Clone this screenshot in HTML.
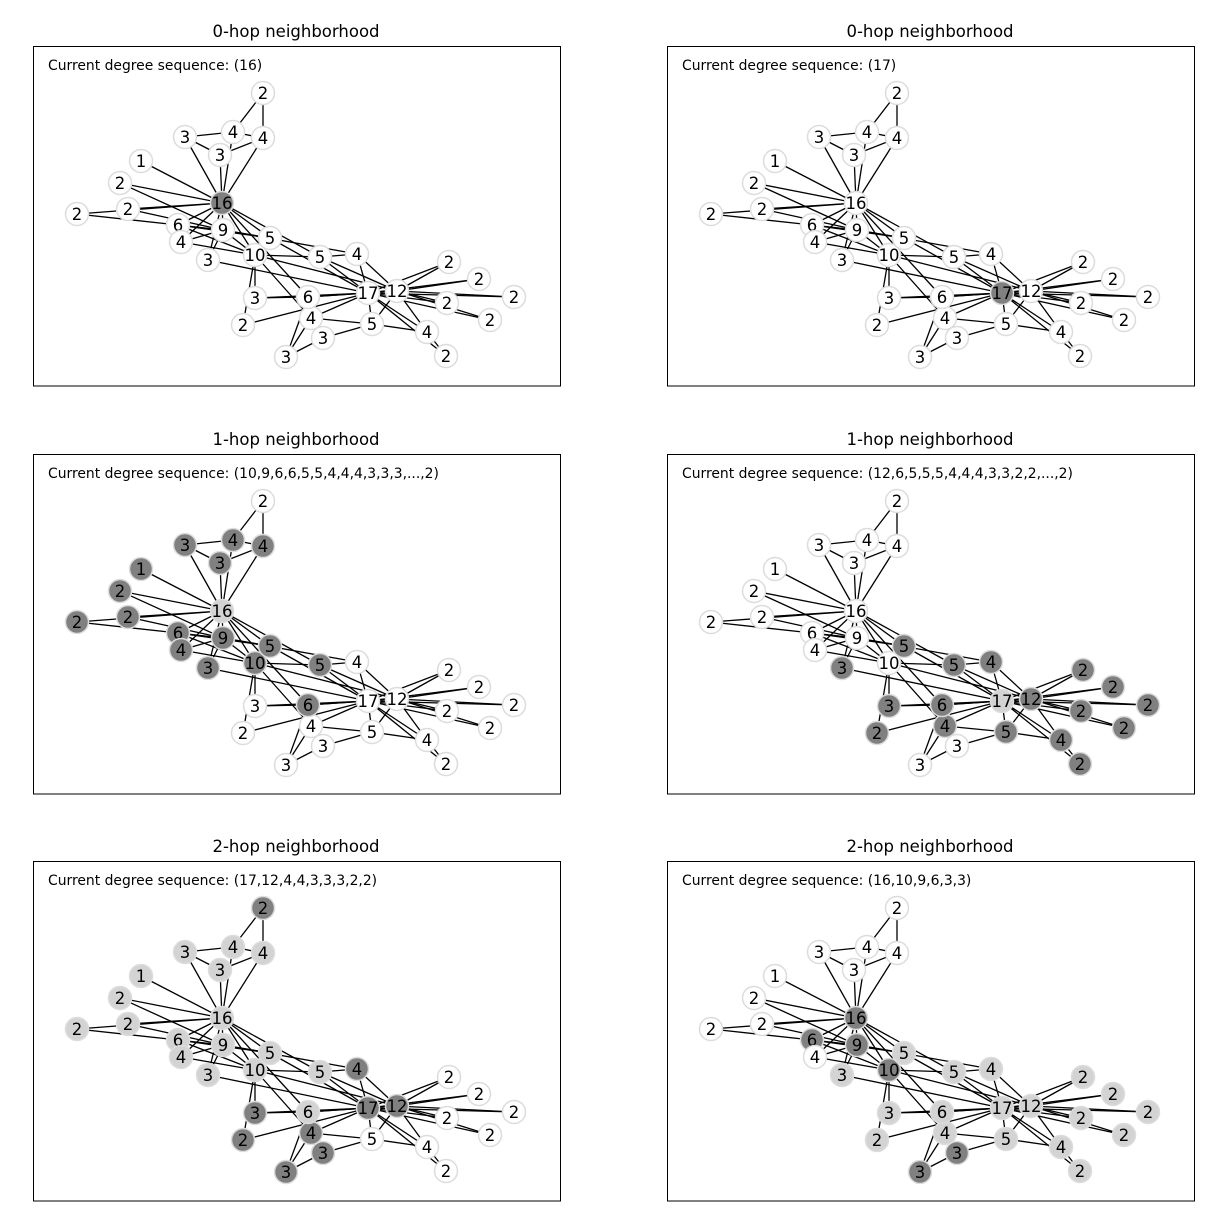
<!DOCTYPE html>
<html><head><meta charset="utf-8"><style>
body{margin:0;background:#fff;width:1225px;height:1230px;overflow:hidden}
svg{display:block}
text{font-family:"DejaVu Sans","Liberation Sans",sans-serif}
</style></head><body>
<svg id="fig" width="1225" height="1230" xmlns="http://www.w3.org/2000/svg"></svg>
<script>
// Graph data (Zachary karate club)
const nodeX=[222,223,255,178,185,263,233,181,320,243,220,141,77,270,449,479,263,120,514,208,447,128,490,372,286,323,446,311,255,427,357,308,397,368];
const nodeY=[203,230,255,225,137,138,132,242,257,325,155,161,214,238,262,279,93,183,297,260,303,209,320,324,357,338,356,318,298,332,254,297,291,293];
const edgeList=[[0,1],[0,2],[0,3],[0,4],[0,5],[0,6],[0,7],[0,8],[0,10],[0,11],[0,12],[0,13],[0,17],[0,19],[0,21],[0,31],
[1,2],[1,3],[1,7],[1,13],[1,17],[1,19],[1,21],[1,30],[2,3],[2,7],[2,8],[2,9],[2,13],[2,27],[2,28],[2,32],[3,7],[3,12],[3,13],
[4,6],[4,10],[5,6],[5,10],[5,16],[6,16],[8,30],[8,32],[8,33],[9,33],[13,33],[14,32],[14,33],[15,32],[15,33],[18,32],[18,33],
[19,33],[20,32],[20,33],[22,32],[22,33],[23,25],[23,27],[23,29],[23,32],[23,33],[24,25],[24,27],[24,31],[25,31],[26,29],[26,33],
[27,33],[28,31],[28,33],[29,32],[29,33],[30,32],[30,33],[31,32],[31,33],[32,33]];
const panelTitles=["0-hop neighborhood","0-hop neighborhood","1-hop neighborhood","1-hop neighborhood","2-hop neighborhood","2-hop neighborhood"];
const panelSeqs=["(16)","(17)","(10,9,6,6,5,5,4,4,4,3,3,3,...,2)","(12,6,5,5,5,4,4,4,3,3,2,2,...,2)","(17,12,4,4,3,3,3,2,2)","(16,10,9,6,3,3)"];
const panelRoots=[0,33,0,33,0,33];
const panelHops=[0,0,1,1,2,2];

const deg=new Array(nodeX.length).fill(0);
const adj=nodeX.map(()=>[]);
edgeList.forEach(([a,b])=>{deg[a]++;deg[b]++;adj[a].push(b);adj[b].push(a);});
const NS="http://www.w3.org/2000/svg";
const fig=document.getElementById('fig');
function mk(tag,attrs,parent){const e=document.createElementNS(NS,tag);for(const k in attrs)e.setAttribute(k,attrs[k]);parent.appendChild(e);return e;}

for(let p=0;p<6;p++){
  const ox=(p%2)*634, oy=[0,408,815][Math.floor(p/2)];
  const g=mk('g',{},fig);
  
  
  const t=mk('text',{x:296+ox,y:37+oy,'text-anchor':'middle','font-size':'16.5',fill:'#000'},g);
  t.textContent=panelTitles[p];
  
  
  const r=mk('rect',{x:33.5+ox,y:46.5+oy,width:527,height:339.5,fill:'none',stroke:'#000','stroke-width':1},g);
  
  
  const s=mk('text',{x:48+ox,y:70+oy,'font-size':'13.9',fill:'#000'},g);
  s.textContent='Current degree sequence: '+panelSeqs[p];
  
  
  // BFS distances
  const dist=new Array(nodeX.length).fill(99);dist[panelRoots[p]]=0;const q=[panelRoots[p]];
  while(q.length){const u=q.shift();adj[u].forEach(v=>{if(dist[v]>dist[u]+1){dist[v]=dist[u]+1;q.push(v);}});}
  const H=panelHops[p];
  const eg=mk('g',{},g);
  
  
  edgeList.forEach(([a,b])=>{
    const l=mk('line',{x1:nodeX[a]+ox,y1:nodeY[a]+oy,x2:nodeX[b]+ox,y2:nodeY[b]+oy,stroke:'#000','stroke-width':1.3},eg);
    
    
  });
  for(let i=0;i<nodeX.length;i++){
    let fill='#fff';
    if(dist[i]===H)fill='#808080';else if(dist[i]<H)fill='#d3d3d3';
    const c=mk('circle',{cx:nodeX[i]+ox,cy:nodeY[i]+oy,r:11.5,fill:fill,stroke:'#dcdcdc','stroke-width':1.5},g);
    
    
    const tx=mk('text',{x:nodeX[i]+ox,y:nodeY[i]+oy+6,'text-anchor':'middle','font-size':'16.5',fill:'#000'},g);
    tx.textContent=deg[i];
    
    
  }
}
</script>
</body></html>
